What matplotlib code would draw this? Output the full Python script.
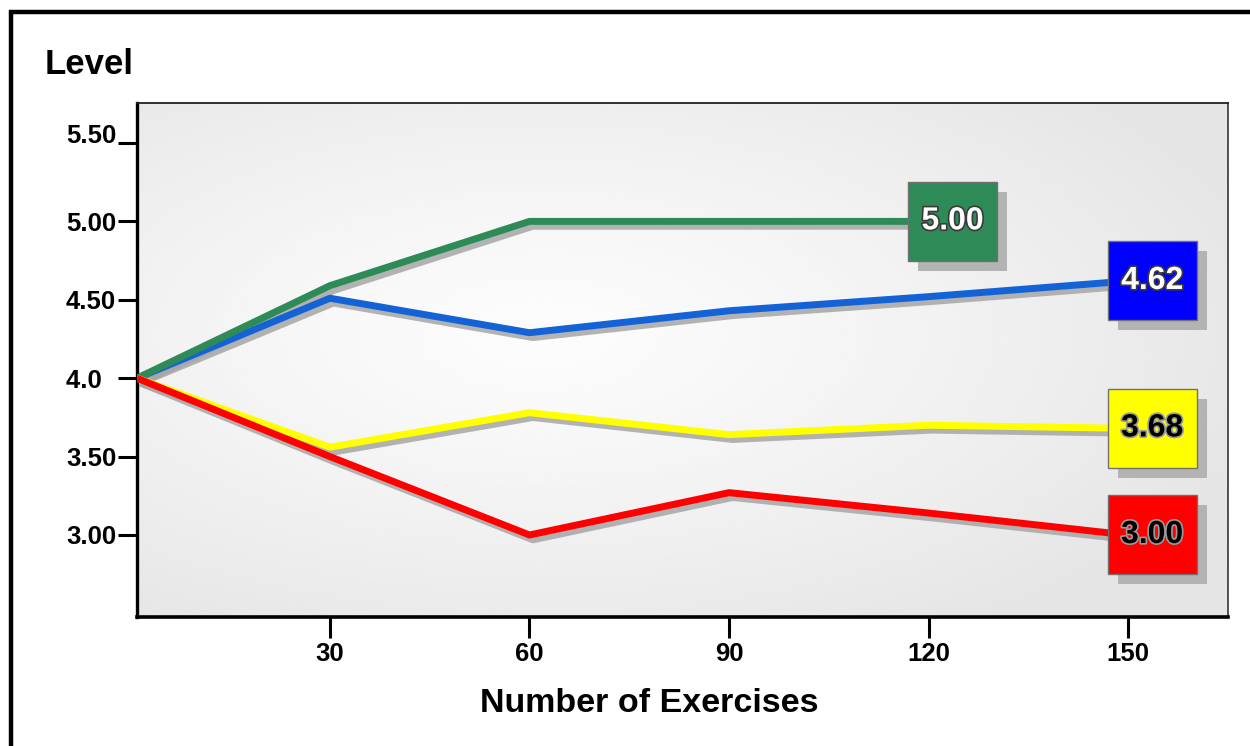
import numpy as np
import matplotlib
matplotlib.use('Agg')
import matplotlib.pyplot as plt
import matplotlib.patheffects as pe
from matplotlib.patches import Rectangle
from matplotlib.transforms import ScaledTranslation

plt.rcParams['font.family'] = ['Liberation Sans', 'DejaVu Sans']

# Data
exercises = [1, 30, 60, 90, 120, 150]
green_x = exercises[:5]
green_vals = [4.00, 4.59, 5.00, 5.00, 5.00]
blue_vals = [4.00, 4.51, 4.29, 4.43, 4.52, 4.62]
yellow_vals = [4.00, 3.56, 3.78, 3.64, 3.70, 3.68]
red_vals = [4.00, 3.50, 3.00, 3.27, 3.14, 3.00]

x_ticks = [30, 60, 90, 120, 150]
y_ticks = [3.00, 3.50, 4.00, 4.50, 5.00, 5.50]
y_tick_labels = ['3.00', '3.50', '4.0  ', '4.50', '5.00', '5.50']

series = [
    # x, values, line colour, box colour, text colour
    (exercises, blue_vals, '#1463d6', '#0000ff', 'white'),
    (green_x, green_vals, '#2e8b57', '#2e8b57', 'white'),
    (exercises, yellow_vals, '#ffff00', '#ffff00', 'black'),
    (exercises, red_vals, '#ff0000', '#ff0000', 'black'),
]

W, H = 1250, 746
fig = plt.figure(figsize=(W / 100, H / 100), dpi=100)
fig.patch.set_facecolor('white')
ax = fig.add_axes([137 / W, 1 - 617 / H, (1228 - 137) / W, (617 - 103) / H])
ax.set_xlim(1, 165)
ax.set_ylim(2.477, 5.755)

# radial grey background, brightest left of centre
gx, gy = np.meshgrid(np.linspace(0, 1, 400), np.linspace(0, 1, 300))
r = np.sqrt(((gx - 0.37) / 0.72) ** 2 + ((gy - 0.55) / 0.7) ** 2)
shade = 0.99 - 0.095 * np.clip(r, 0, 1) ** 1.2
ax.imshow(shade, extent=[0, 1, 0, 1], transform=ax.transAxes, cmap='gray',
          vmin=0, vmax=1, aspect='auto', origin='lower', zorder=0,
          interpolation='bicubic')

# lines with drop shadows
shadow = ax.transData + ScaledTranslation(2.5 / 72, -3.5 / 72, fig.dpi_scale_trans)
for xs, vals, lc, bc, tc in series:
    ax.plot(xs, vals, color='#a6a6a6', lw=5, alpha=0.85, transform=shadow,
            solid_joinstyle='round', solid_capstyle='butt', zorder=2)
for i, (xs, vals, lc, bc, tc) in enumerate(series):
    ax.plot(xs, vals, color=lc, lw=5, solid_joinstyle='round',
            solid_capstyle='butt', zorder=3 + i)

# value boxes at the end of each line
bw, bh = 89, 79
for xs, vals, lc, bc, tc in series:
    cx, cy = ax.transData.transform((xs[-1], vals[-1]))
    cx += 24
    ax.add_patch(Rectangle(((cx - bw / 2 + 10) / W, (cy - bh / 2 - 10) / H), bw / W, bh / H,
                           transform=fig.transFigure, facecolor='#b3b3b3',
                           edgecolor='none', clip_on=False, zorder=8))
    ax.add_patch(Rectangle(((cx - bw / 2) / W, (cy - bh / 2) / H), bw / W, bh / H,
                           transform=fig.transFigure, facecolor=bc,
                           edgecolor='#707070', lw=1, clip_on=False, zorder=9))
    if tc == 'white':
        effects = [pe.withStroke(linewidth=2.4, foreground='#3a3a3a')]
    else:
        effects = [pe.withStroke(linewidth=2.4, foreground='#9a9a9a')]
    ax.text(cx / W, cy / H, f'{vals[-1]:.2f}', transform=fig.transFigure,
            ha='center', va='center', fontsize=23, fontweight='bold', color=tc,
            path_effects=effects, zorder=10)

# axes styling
ax.set_xticks(x_ticks)
ax.set_xticklabels([str(v) for v in x_ticks])
ax.set_yticks(y_ticks)
ax.set_yticklabels(y_tick_labels)
ax.tick_params(axis='y', direction='out', length=14, width=2.2, pad=1,
               labelsize=18.5, color='black')
ax.tick_params(axis='x', direction='out', length=15, width=2.2, pad=3,
               labelsize=18.5, color='black')
for lab in ax.get_yticklabels() + ax.get_xticklabels():
    lab.set_fontweight('bold')
ax.get_yticklabels()[-1].set_verticalalignment('baseline')

ax.spines['left'].set_linewidth(2.4)
ax.spines['bottom'].set_linewidth(2.6)
ax.spines['top'].set_linewidth(1.3)
ax.spines['right'].set_linewidth(1.3)
ax.spines['top'].set_color('#222222')
ax.spines['right'].set_color('#444444')

fig.text(649 / W, 1 - 703 / H, 'Number of Exercises', ha='center', va='center',
         fontsize=24.5, fontweight='bold')
fig.text(45 / W, 1 - 74 / H, 'Level', ha='left', va='baseline',
         fontsize=25, fontweight='bold')

# outer frame
fig.add_artist(Rectangle((11 / W, -0.1), 1.2, 1 - 12 / H + 0.1,
                         transform=fig.transFigure, fill=False,
                         edgecolor='black', lw=3.2))

fig.savefig('out.png', dpi=100, facecolor='white')
